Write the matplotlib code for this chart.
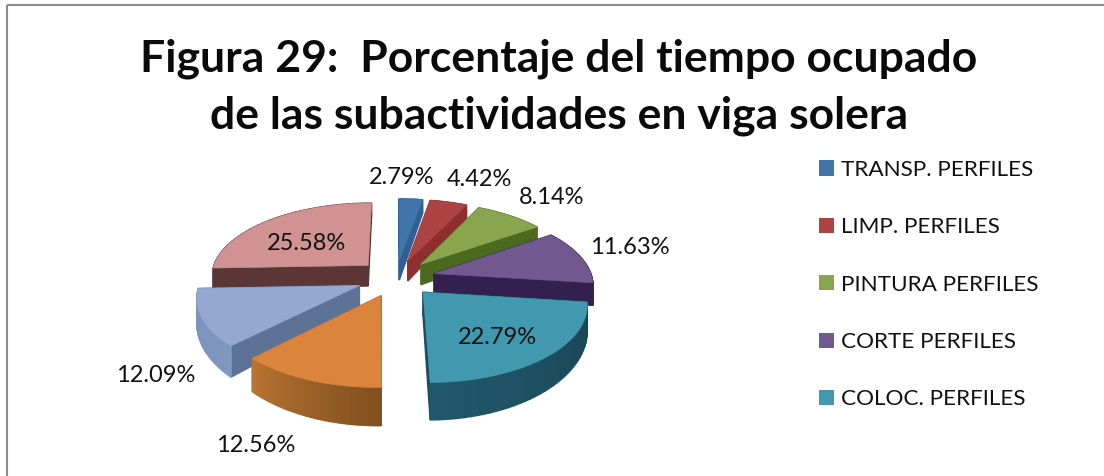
import numpy as np
import matplotlib
matplotlib.use('Agg')
import matplotlib.pyplot as plt
from matplotlib.patches import Patch, Polygon, Rectangle
from matplotlib.colors import to_rgb

plt.rcParams['font.family'] = ['Lato', 'DejaVu Sans']

title = 'Figura 29:  Porcentaje del tiempo ocupado\nde las subactividades en viga solera'
values = [2.79, 4.42, 8.14, 11.63, 22.79, 12.56, 12.09, 25.58]
legend_labels = ['TRANSP. PERFILES', 'LIMP. PERFILES', 'PINTURA PERFILES', 'CORTE PERFILES', 'COLOC. PERFILES']
top_colors = ['#4174a8', '#ab4442', '#89a54e', '#71588f', '#4198af', '#db843d', '#93a9cf', '#d19392']
side_colors = ['#2f5f94', '#8f2e2c', '#4c6a1f', '#33204f', '#1d4c5c', '#b06c2e', '#5d7396', '#5a3636']
# outer wall colour at the start and at the end of each slice (clockwise)
arc_start = ['#2f5f94', '#8f2e2c', '#4c6a1f', '#33204f', '#1a4454', '#80501f', '#8098c0', '#5a3636']
arc_end = ['#2f5f94', '#8f2e2c', '#4c6a1f', '#33204f', '#20586a', '#b87430', '#7b93bb', '#5a3636']

# where each percentage label sits, in pixels
label_pos = [(402, 177), (479, 180), (552, 197), (630, 247), (497, 337), (256, 446), (156, 375), (307, 243)]

# perspective of the pie plane
cx, cy = 396, 278
c, a, b = 158, 74, 0.136
explode = 0.25
d0 = 22


def project(u, v):
    w = 1 + b * v
    return cx + c * u / w, cy - a * v / w


def depth(v):
    return d0 / (1 + b * v) ** 3


def face(pts_u, pts_v):
    x, y = project(np.array(pts_u), np.array(pts_v))
    return np.column_stack([x, y])


def wall(u0, v0, u1, v1):
    x0, y0 = project(u0, v0)
    x1, y1 = project(u1, v1)
    return [(x0, y0), (x1, y1), (x1, y1 + depth(v1)), (x0, y0 + depth(v0))]


fig = plt.figure(figsize=(11.04, 4.76), dpi=100)
ax = fig.add_axes([0, 0, 1, 1])
ax.set_xlim(0, 1104)
ax.set_ylim(476, 0)
ax.axis('off')

ax.add_patch(Rectangle((7, 5), 1200, 600, fill=False, edgecolor='#8c8c8c', linewidth=1.5))

ax.text(559, 59, title.split('\n')[0], ha='center', va='center', fontsize=32, fontweight='bold', color='#0a0a0a')
ax.text(559, 116, title.split('\n')[1], ha='center', va='center', fontsize=32, fontweight='bold', color='#0a0a0a')

edges = np.cumsum([0] + values) / sum(values) * 2 * np.pi
mids = (edges[:-1] + edges[1:]) / 2

# back slices first
order = [7, 0, 1, 2, 3, 6, 5, 4]
for i in order:
    t = np.linspace(edges[i], edges[i + 1], 40)
    ou = explode * np.sin(mids[i])
    ov = explode * np.cos(mids[i])
    ru = ou + np.sin(t)
    rv = ov + np.cos(t)

    faces = []
    faces.append((wall(ou, ov, ru[0], rv[0]), side_colors[i]))
    faces.append((wall(ou, ov, ru[-1], rv[-1]), side_colors[i]))
    c0 = np.array(to_rgb(arc_start[i]))
    c1 = np.array(to_rgb(arc_end[i]))
    for k in range(len(t) - 1):
        col = c0 + (c1 - c0) * k / (len(t) - 2)
        faces.append((wall(ru[k], rv[k], ru[k + 1], rv[k + 1]), tuple(col)))

    # farthest wall goes down first
    faces.sort(key=lambda f: max(p[1] for p in f[0]))
    for pts, col in faces:
        ax.add_patch(Polygon(pts, closed=True, facecolor=col, edgecolor=col, linewidth=1.0))

    top = face(np.r_[ou, ru], np.r_[ov, rv])
    ax.add_patch(Polygon(top, closed=True, facecolor=top_colors[i], edgecolor=top_colors[i], linewidth=0.4))

for v, (x, y) in zip(values, label_pos):
    ax.text(x, y, '%.2f%%' % v, ha='center', va='center', fontsize=17, color='#111111')

handles = [Patch(facecolor=col, edgecolor='none') for col in top_colors[:5]]
ax.legend(handles, legend_labels, loc='upper left', bbox_to_anchor=(819 / 1104, 1 - 160 / 476),
          frameon=False, fontsize=16.2, handlelength=0.67, handleheight=0.67, handletextpad=0.32,
          labelspacing=1.66, borderpad=0, borderaxespad=0, labelcolor='#111111')

plt.savefig('out.png', dpi=100)
